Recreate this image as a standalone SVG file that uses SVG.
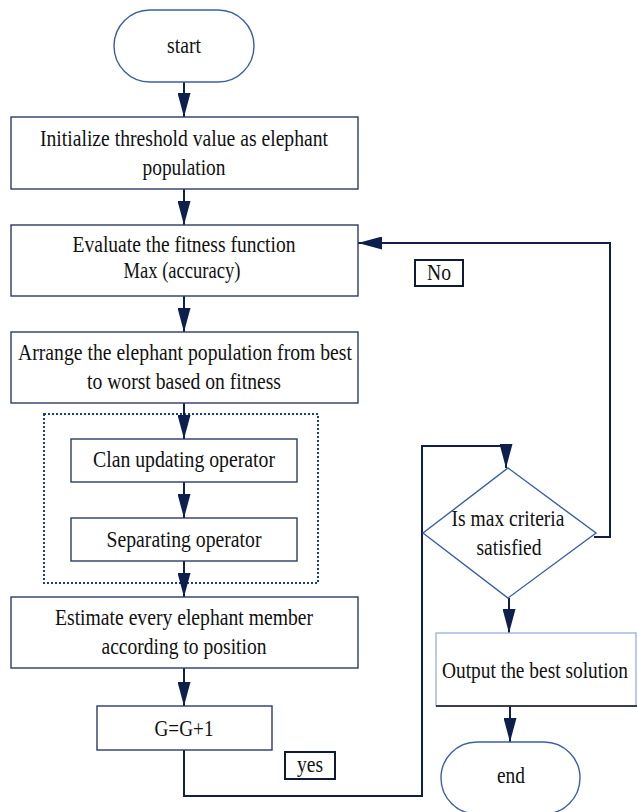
<svg xmlns="http://www.w3.org/2000/svg" width="637" height="812" viewBox="0 0 637 812" font-family="'Liberation Serif', 'DejaVu Serif', serif" font-size="23" text-anchor="middle">
<style>
.t{font-family:'Liberation Serif','DejaVu Serif',serif;font-size:23px;fill:#111;text-anchor:middle}
.box{fill:#fff;stroke:#2d3b66;stroke-width:1.4}
.term{fill:#fff;stroke:#3a5fa8;stroke-width:1.4}
.dia{fill:#fff;stroke:#3a5fa8;stroke-width:1.4}
.lab{fill:#fff;stroke:#111a33;stroke-width:2}
.grp{fill:none;stroke:#1d3a8a;stroke-width:2;stroke-dasharray:2 2}
.conn{fill:none;stroke:#0d1f4d;stroke-width:2}
</style>
<defs>
<marker id="ah" markerUnits="userSpaceOnUse" viewBox="0 0 24 13" markerWidth="24" markerHeight="13" refX="24" refY="6.5" orient="auto">
<path d="M0,0 L24,6.5 L0,13 Z" fill="#0d1f4d"/>
</marker>
</defs>
<rect width="637" height="812" fill="#fff"/>
<g id="group-box"><rect class="grp" x="44" y="414" width="274" height="169"/></g>
<g id="connectors">
<path class="conn" d="M184,82 V117" marker-end="url(#ah)"/>
<path class="conn" d="M184,189 V225" marker-end="url(#ah)"/>
<path class="conn" d="M184,296 V332" marker-end="url(#ah)"/>
<path class="conn" d="M184,403 V439" marker-end="url(#ah)"/>
<path class="conn" d="M184,482 V518" marker-end="url(#ah)"/>
<path class="conn" d="M184,561 V597" marker-end="url(#ah)"/>
<path class="conn" d="M184,668 V706" marker-end="url(#ah)"/>
<path class="conn" d="M184,750 V796 H422 V446 H506 V468" marker-end="url(#ah)"/>
<path class="conn" d="M594,537 H610 V243 H358" marker-end="url(#ah)"/>
<path class="conn" d="M509,598 V633" marker-end="url(#ah)"/>
<path class="conn" d="M510,706 V742" marker-end="url(#ah)"/>
</g>
<g id="start"><rect class="term" x="114" y="10" width="140" height="72" rx="36" ry="36"/><text class="t" x="184" y="53" textLength="34" lengthAdjust="spacingAndGlyphs">start</text></g>
<g id="init"><rect class="box" x="11" y="117" width="347" height="72"/>
<text class="t" x="184" y="146" textLength="288" lengthAdjust="spacingAndGlyphs">Initialize threshold value as elephant</text>
<text class="t" x="184" y="175" textLength="83" lengthAdjust="spacingAndGlyphs">population</text></g>
<g id="evaluate"><rect class="box" x="11" y="225" width="347" height="71"/>
<text class="t" x="184" y="252" textLength="223" lengthAdjust="spacingAndGlyphs">Evaluate the fitness function</text>
<text class="t" x="182" y="278" textLength="117" lengthAdjust="spacingAndGlyphs">Max (accuracy)</text></g>
<g id="arrange"><rect class="box" x="11" y="332" width="347" height="71"/>
<text class="t" x="185" y="360" textLength="334" lengthAdjust="spacingAndGlyphs">Arrange the elephant population from best</text>
<text class="t" x="184" y="389" textLength="194" lengthAdjust="spacingAndGlyphs">to worst based on fitness</text></g>
<g id="clan"><rect class="box" x="71" y="439" width="226" height="43"/>
<text class="t" x="184" y="467" textLength="182" lengthAdjust="spacingAndGlyphs">Clan updating operator</text></g>
<g id="separating"><rect class="box" x="71" y="518" width="226" height="43"/>
<text class="t" x="184" y="547" textLength="155" lengthAdjust="spacingAndGlyphs">Separating operator</text></g>
<g id="estimate"><rect class="box" x="11" y="597" width="347" height="71"/>
<text class="t" x="184" y="625" textLength="258" lengthAdjust="spacingAndGlyphs">Estimate every elephant member</text>
<text class="t" x="184" y="654" textLength="165" lengthAdjust="spacingAndGlyphs">according to position</text></g>
<g id="increment"><rect class="box" x="97" y="706" width="175" height="44"/>
<text class="t" x="184" y="736" textLength="59" lengthAdjust="spacingAndGlyphs">G=G+1</text></g>
<g id="yes-label"><rect class="lab" x="285" y="752" width="50" height="27"/>
<text class="t" x="310" y="772" textLength="26" lengthAdjust="spacingAndGlyphs">yes</text></g>
<g id="no-label"><rect class="lab" x="415" y="260" width="48" height="26"/>
<text class="t" x="439" y="280" textLength="24" lengthAdjust="spacingAndGlyphs">No</text></g>
<g id="decision"><polygon class="dia" points="508,468 596,533 508,598 423,533"/>
<text class="t" x="508" y="526" textLength="113" lengthAdjust="spacingAndGlyphs">Is max criteria</text>
<text class="t" x="509" y="555" textLength="65" lengthAdjust="spacingAndGlyphs">satisfied</text></g>
<g id="output"><rect class="box" x="436" y="633" width="200" height="73" style="stroke:#9fb4e0"/>
<line x1="436" y1="706" x2="637" y2="706" stroke="#111" stroke-width="1.6"/>
<text class="t" x="535" y="678" textLength="186" lengthAdjust="spacingAndGlyphs">Output the best solution</text></g>
<g id="end"><rect class="term" x="441" y="742" width="139" height="72" rx="36" ry="36"/>
<text class="t" x="511" y="783" textLength="28" lengthAdjust="spacingAndGlyphs">end</text></g>
</svg>
